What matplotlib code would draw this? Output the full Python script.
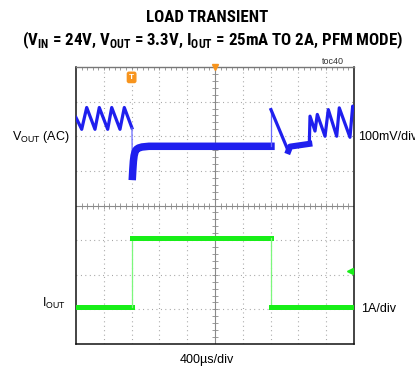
import matplotlib
matplotlib.use("Agg")
import matplotlib.pyplot as plt
from matplotlib import font_manager


def _w(f):
    w = f.weight
    if isinstance(w, str):
        w = font_manager.weight_dict.get(w, 400)
    return w


bold_names = {f.name for f in font_manager.fontManager.ttflist
              if _w(f) >= 650 and f.style == "normal"}
TITLE_FONT, TITLE_SIZE = "Liberation Sans", 10.5
for cand, size in [("Liberation Sans Narrow", 12.8), ("Arial Narrow", 12.8),
                   ("Archivo Narrow", 12.8), ("Roboto Condensed", 12.2),
                   ("Open Sans Condensed", 12.2)]:
    if cand in bold_names:
        TITLE_FONT, TITLE_SIZE = cand, size
        break

# ---------------- data ----------------
t_span = (0, 4000)  # us, 400 us/div
# VOUT (AC), mV
v_saw1_t = [0, 82, 154, 273, 335, 456, 514, 633, 695, 805]
v_saw1_v = [54, 20, 83, 20, 83, 20, 83, 20, 83, 24]
v_drop_t = [805, 812]
v_drop_v = [24, -116]
v_rec_t = [812, 818, 826, 836, 850, 870, 900, 950, 1050, 2805]
v_rec_v = [-116, -95, -72, -56, -45, -38, -34, -31, -29, -29]
v_jump_t = [2805, 2805]
v_jump_v = [-29, 77]
v_fall_t = [2805, 3055]
v_fall_v = [77, -43]
v_band_t = [3055, 3080, 3357]
v_band_v = [-43, -30, -22]
v_saw2_t = [3357, 3367, 3439, 3472, 3583, 3630, 3751, 3788, 3942, 3981, 4000]
v_saw2_v = [-22, 58, 15, 63, 0, 77, 0, 82, -3, 87, 78]
# IOUT, A
i_low1_t = [0, 810]
i_low1_v = [0.025, 0.025]
i_rise_t = [810, 810]
i_rise_v = [0.025, 2.0]
i_high_t = [810, 2800]
i_high_v = [2.0, 2.0]
i_fall_t = [2800, 2800]
i_fall_v = [2.0, 0.025]
i_low2_t = [2800, 4000]
i_low2_v = [0.025, 0.025]

v_per_div = 100.0
v_offset_div = 2.0
i_per_div = 1.0
i_offset_div = -2.945

BLUE = "#1f1fee"
BLUE_L = "#6a6aff"
GREEN = "#18ee18"
GREEN_L = "#7cf77c"
ORANGE = "#f7941d"
GRIDC = "#9a9a9a"

plt.rcParams["font.family"] = ["Liberation Sans", "DejaVu Sans"]
plt.rcParams["mathtext.fontset"] = "custom"
plt.rcParams["mathtext.rm"] = "Liberation Sans"
plt.rcParams["mathtext.bf"] = TITLE_FONT + ":bold"

fig = plt.figure(figsize=(4.15, 3.75), dpi=100)
L, R, T, B = 76, 354, 67, 344
W, H = 415.0, 375.0
rect = [L / W, 1 - B / H, (R - L) / W, (B - T) / H]
ax = fig.add_axes(rect)
ax.set_xlim(0, 10)
ax.set_ylim(-4, 4)
ax.set_xticks([])
ax.set_yticks([])

for gx in range(1, 10):
    if gx != 5:
        ax.axvline(gx, color=GRIDC, lw=0.8, ls=(0, (0.8, 3.2)), zorder=1)
for gy in range(-3, 4):
    if gy != 0:
        ax.axhline(gy, color=GRIDC, lw=0.8, ls=(0, (0.8, 3.2)), zorder=1)
ax.axhline(0, color="#8a8a8a", lw=0.8, zorder=1)
ax.axvline(5, color="#8a8a8a", lw=0.8, zorder=1)
minor_x = [i / 5 for i in range(1, 50)]
minor_y = [i / 5 for i in range(-19, 20)]
ax.plot(minor_x, [0] * len(minor_x), ls="none", marker="|", ms=4, mew=0.6, color="#8a8a8a", zorder=1)
ax.plot([5] * len(minor_y), minor_y, ls="none", marker="_", ms=4, mew=0.6, color="#8a8a8a", zorder=1)
ax.plot(minor_x, [3.97] * len(minor_x), ls="none", marker="|", ms=3, mew=0.6, color="#8a8a8a", zorder=1)

for s in ["left", "bottom", "right"]:
    ax.spines[s].set_color("#111111")
    ax.spines[s].set_linewidth(1.1)
ax.spines["top"].set_color("#777777")
ax.spines["top"].set_linewidth(1.0)

axv = fig.add_axes(rect, frameon=False)
axi = fig.add_axes(rect, frameon=False)
axv.set_ylim((-4 - v_offset_div) * v_per_div, (4 - v_offset_div) * v_per_div)
axi.set_ylim((-4 - i_offset_div) * i_per_div, (4 - i_offset_div) * i_per_div)
for a in (axv, axi):
    a.set_xlim(*t_span)
    a.set_xticks([]); a.set_yticks([])

thin, saw, band = 0.9, 2.3, 5.4
axv.plot(v_saw1_t, v_saw1_v, color=BLUE, lw=saw)
axv.plot(v_drop_t, v_drop_v, color=BLUE_L, lw=thin)
axv.plot(v_rec_t, v_rec_v, color=BLUE, lw=band)
axv.plot(v_jump_t, v_jump_v, color=BLUE_L, lw=thin)
axv.plot(v_fall_t, v_fall_v, color=BLUE, lw=saw)
axv.plot(v_band_t, v_band_v, color=BLUE, lw=band - 1)
axv.plot(v_saw2_t, v_saw2_v, color=BLUE, lw=saw)

axi.plot(i_low1_t, i_low1_v, color=GREEN, lw=3.6)
axi.plot(i_rise_t, i_rise_v, color=GREEN_L, lw=thin)
axi.plot(i_high_t, i_high_v, color=GREEN, lw=3.6)
axi.plot(i_fall_t, i_fall_v, color=GREEN_L, lw=thin)
axi.plot(i_low2_t, i_low2_v, color=GREEN, lw=3.6)

ax.plot([5], [4], marker="v", ms=5, color=ORANGE, clip_on=False, zorder=5)
ax.text(2.0, 3.7, "T", ha="center", va="center", fontsize=6, color="white", fontweight="bold",
        bbox=dict(boxstyle="round,pad=0.2", fc=ORANGE, ec=ORANGE), zorder=5)
ax.plot([9.85], [-1.88], marker="<", ms=4, color=GREEN, zorder=5)

fig.text(207 / W, 1 - 18 / H, "LOAD TRANSIENT", ha="center", va="center",
         fontsize=TITLE_SIZE, fontweight="bold", family=TITLE_FONT)
fig.text(213 / W, 1 - 40 / H,
         r"(V$_{\mathbf{IN}}$ = 24V, V$_{\mathbf{OUT}}$ = 3.3V, I$_{\mathbf{OUT}}$ = 25mA TO 2A, PFM MODE)",
         ha="center", va="center", fontsize=TITLE_SIZE, fontweight="bold", family=TITLE_FONT)
fig.text(344 / W, 1 - 61 / H, "toc40", ha="right", va="center", fontsize=6.5, color="#333333")
fig.text(70 / W, 1 - 137 / H, r"V$_{\mathrm{OUT}}$ (AC)", ha="right", va="center", fontsize=9)
fig.text(358 / W, 1 - 137 / H, "100mV/div", ha="left", va="center", fontsize=9)
fig.text(66 / W, 1 - 303 / H, r"I$_{\mathrm{OUT}}$", ha="right", va="center", fontsize=9)
fig.text(361 / W, 1 - 309 / H, "1A/div", ha="left", va="center", fontsize=9)
fig.text(207 / W, 1 - 360 / H, "400µs/div", ha="center", va="center", fontsize=9)

fig.savefig("out.png", dpi=100)
